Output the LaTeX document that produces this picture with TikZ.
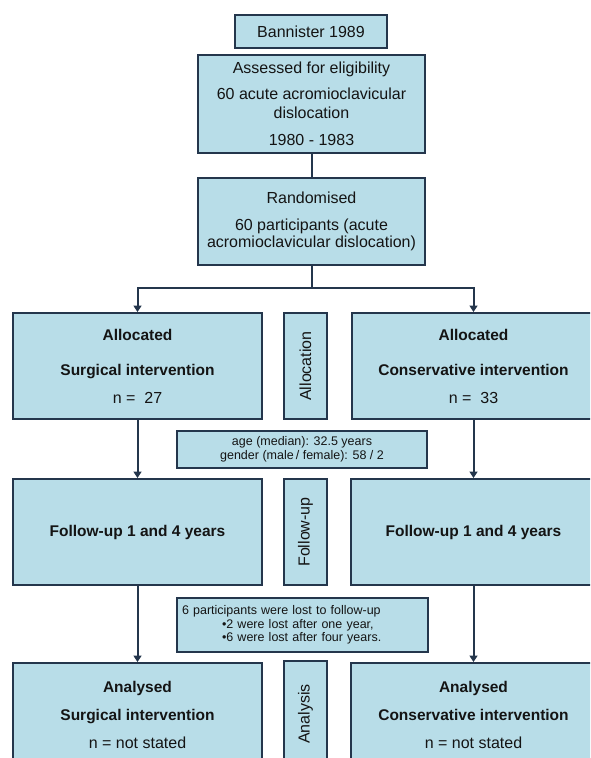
\documentclass[tikz,border=0pt]{standalone}
\usepackage{fontspec}
\setmainfont{Liberation Sans}
\usetikzlibrary{arrows.meta}
\definecolor{boxfill}{RGB}{184,221,232}
\definecolor{boxline}{RGB}{36,54,76}
\definecolor{ink}{RGB}{20,20,20}
% bold heading font inside the boxes
\newcommand\hdfont{\fontsize{15.5}{19}\selectfont\bfseries}
\tikzset{
  flowbox/.style={draw=boxline, fill=boxfill, line width=2pt, inner sep=0pt,
    align=center, text=ink, font=\fontsize{16}{19}\selectfont},
  sidebox/.style={flowbox, minimum width=43pt},
  sidelabel/.style={rotate=90, text=ink, font=\fontsize{16}{19}\selectfont},
  notebox/.style={flowbox, font=\fontsize{12.5}{13.5}\selectfont},
  link/.style={draw=boxline, line width=2pt},
  flowarrow/.style={link, -{Triangle[length=6.5pt,width=8pt]}}
}
\begin{document}
\begin{tikzpicture}[x=1pt,y=-1pt]
\useasboundingbox (0,0) rectangle (590,758);
\clip (0,0) rectangle (590,758);

% title and screening
\node[flowbox, minimum width=152pt, minimum height=33pt] (bann) at (311,31.5) {Bannister 1989};
\node[flowbox, minimum width=227pt, minimum height=98pt] (assess) at (311.5,104)
  {Assessed for eligibility\\[7pt]60 acute acromioclavicular\\dislocation\\[8pt]1980 - 1983};
\node[flowbox, minimum width=227pt, minimum height=87pt, font=\fontsize{16}{17.5}\selectfont] (rand) at (311.5,221.5)
  {Randomised\\[9pt]60 participants (acute\\acromioclavicular dislocation)};

% allocation row
\node[flowbox, minimum width=249pt, minimum height=106pt] (allocL) at (137.5,366)
  {{\hdfont Allocated}\\[16pt]{\hdfont Surgical intervention}\\[9pt]n =\ \ 27};
\node[sidebox, minimum height=106pt] (allocM) at (305.5,366) {};
\node[sidelabel] (allocT) at (allocM.center) {Allocation};
\node[flowbox, minimum width=244pt, minimum height=106pt] (allocR) at (473.5,366)
  {{\hdfont Allocated}\\[16pt]{\hdfont Conservative intervention}\\[9pt]n =\ \ 33};

\node[notebox, minimum width=250pt, minimum height=37pt] (age) at (302,449.5)
  {age (median): 32.5 years\\gender (male\,/ female): 58 / 2};

% follow-up row
\node[flowbox, minimum width=249pt, minimum height=106pt] (fuL) at (137.5,532)
  {\hdfont Follow-up 1 and 4 years};
\node[sidebox, minimum height=106pt] (fuM) at (305.5,532) {};
\node[sidelabel] (fuT) at (fuM.center) {Follow-up};
\node[flowbox, minimum width=245pt, minimum height=106pt] (fuR) at (473.5,532)
  {\hdfont Follow-up 1 and 4 years};

\node[notebox, minimum width=251pt, minimum height=54pt, align=left, text width=241pt] (lost) at (302.5,625)
  {6 participants were\ lost to follow-up\\
   \hspace*{40pt}\textbullet2 were\ lost after one year,\\
   \hspace*{40pt}\textbullet6 were\ lost after four years.};

% analysis row
\node[flowbox, minimum width=249pt, minimum height=104pt] (anL) at (137.5,715)
  {{\hdfont Analysed}\\[9pt]{\hdfont Surgical intervention}\\[9pt]n = not stated};
\node[sidebox, minimum height=110pt] (anM) at (305.5,716) {};
\node[sidelabel] (anT) at (305.5,714) {Analysis};
\node[flowbox, minimum width=245pt, minimum height=104pt] (anR) at (473.5,715)
  {{\hdfont Analysed}\\[9pt]{\hdfont Conservative intervention}\\[9pt]n = not stated};

% connectors
\coordinate (split) at (311.5,288);
\draw[link] (assess.south) -- (rand.north);
\draw[link] (rand.south) -- (split);
\draw[flowarrow] (split) -| (allocL.north);
\draw[flowarrow] (split) -| (allocR.north);
\draw[flowarrow] (allocL.south) -- (fuL.north);
\draw[flowarrow] (allocR.south) -- (fuR.north);
\draw[flowarrow] (fuL.south) -- (anL.north);
\draw[flowarrow] (fuR.south) -- (anR.north);
\end{tikzpicture}
\end{document}
